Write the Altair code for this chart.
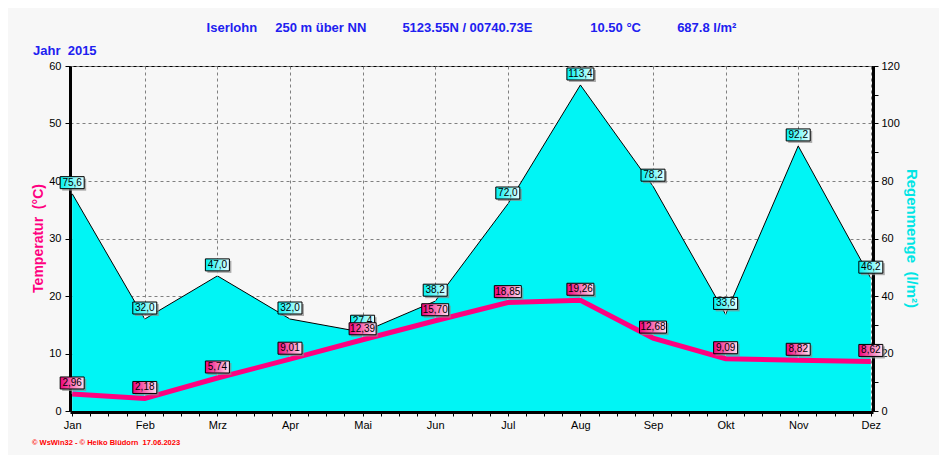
import altair as alt
import pandas as pd

# ---------------- data ----------------
months = ["Jan", "Feb", "Mrz", "Apr", "Mai", "Jun", "Jul", "Aug", "Sep", "Okt", "Nov", "Dez"]
temps = [2.96, 2.18, 5.74, 9.01, 12.39, 15.70, 18.85, 19.26, 12.68, 9.09, 8.82, 8.62]
rain = [75.6, 32.0, 47.0, 32.0, 27.4, 38.2, 72.0, 113.4, 78.2, 33.6, 92.2, 46.2]
temp_ticks = [0, 10, 20, 30, 40, 50, 60]
rain_ticks = [0, 10, 20, 30, 40, 50, 60, 70, 80, 90, 100, 110, 120]

NB = "\u00a0"
header = ("Iserlohn" + NB * 5 + "250 m über NN" + NB * 10 + "5123.55N / 00740.73E"
          + NB * 16 + "10.50 °C" + NB * 10 + "687.8 l/m²")
year_text = "Jahr" + NB * 2 + "2015"
footer_text = "© WsWin32 - © Heiko Blüdorn" + NB * 2 + "17.06.2023"

df = pd.DataFrame({"xi": list(range(12)), "month": months, "temp": temps, "rain": rain})
df["tlab"] = [f"{v:.2f}".replace(".", ",") for v in temps]
df["rlab"] = [f"{v:.1f}".replace(".", ",") for v in rain]

FONT = "Liberation Sans"
PINK = "#FF0080"
CYAN = "#00F5F5"
BLUE = "#2020F0"

month_arr = "[" + ",".join(f"'{m}'" for m in months) + "]"

x_enc = alt.X(
    "xi:Q",
    scale=alt.Scale(domain=[-0.03, 11.03], nice=False, zero=False),
    axis=alt.Axis(
        values=[i / 4 for i in range(45)],
        labelExpr=f"datum.value % 1 === 0 ? {month_arr}[datum.value] : ''",
        grid=True,
        gridOpacity={"condition": {"test": "datum.value % 1 === 0 && datum.value > 0", "value": 1}, "value": 0},
        gridDash=[3, 3], gridColor="#808080", gridWidth=1,
        domainColor="black", domainWidth=3,
        tickColor="black", tickSize=4, tickWidth=1,
        labelFont=FONT, labelFontSize=11, labelColor="black", labelPadding=3,
        labelFlush=False, labelOverlap=False, offset=1,
        title=None,
    ),
)

y_temp = alt.Y(
    "temp:Q",
    scale=alt.Scale(domain=[0, 60], nice=False),
    axis=alt.Axis(
        orient="left", values=temp_ticks,
        grid=True, gridDash=[3, 3], gridColor="#808080", gridWidth=1,
        domainColor="black", domainWidth=3,
        tickColor="black", tickSize=5, tickWidth=1,
        labelFont=FONT, labelFontSize=11, labelColor="black", labelPadding=4,
        labelFlush=False,
        title="Temperatur" + NB * 2 + "(°C)", titleColor=PINK, titleFont=FONT,
        titleFontSize=14, titleFontWeight="bold", titleX=-32, titleY=172,
        titleBaseline="middle", titleAlign="center",
    ),
)

y_rain = alt.Y(
    "rain:Q",
    scale=alt.Scale(domain=[0, 120], nice=False),
    axis=alt.Axis(
        orient="right", values=rain_ticks,
        labelExpr="datum.value % 20 === 0 ? datum.label : ''",
        grid=False,
        domainColor="black", domainWidth=3,
        tickColor="black", tickSize=5, tickWidth=1,
        labelFont=FONT, labelFontSize=11, labelColor="black", labelPadding=3,
        labelFlush=False,
        title="Regenmenge" + NB * 2 + "(l/m²)", titleColor="#00E5E5", titleFont=FONT,
        titleFontSize=15, titleFontWeight="bold", titleX=38, titleY=172,
        titleBaseline="middle", titleAlign="center",
    ),
)

base = alt.Chart(df)

rain_grad = alt.LinearGradient(
    gradient="linear", x1=0, x2=1, y1=0, y2=0,
    stops=[alt.GradientStop(color="#00F0F0", offset=0), alt.GradientStop(color="#E6FFFF", offset=1)],
)
temp_grad = alt.LinearGradient(
    gradient="linear", x1=0, x2=1, y1=0, y2=0,
    stops=[alt.GradientStop(color="#F0007A", offset=0), alt.GradientStop(color="#FFE0F0", offset=1)],
)


def boxes(field, y_enc, grad):
    layers = []
    for w, test in [(24, f"length(datum.{field}) <= 4"), (27, f"length(datum.{field}) > 4")]:
        sub = base.transform_filter(test)
        layers.append(sub.mark_rect(width=w, height=12, xOffset=2, yOffset=-9,
                                    color="#8a8a8a", opacity=0.7).encode(x=x_enc, y=y_enc))
        layers.append(sub.mark_rect(width=w, height=12, yOffset=-11, fill=grad,
                                    stroke="black", strokeWidth=1).encode(x=x_enc, y=y_enc))
    layers.append(base.mark_text(font=FONT, fontSize=10, color="black", dy=-11,
                                 baseline="middle", align="center")
                  .encode(x=x_enc, y=y_enc, text=f"{field}:N"))
    return layers


def notch(y_enc):
    return base.mark_tick(orient="vertical", size=6, thickness=1, color="white",
                          yOffset=-3).encode(x=x_enc, y=y_enc)


rain_area = base.mark_area(color=CYAN, opacity=1).encode(x=x_enc, y=y_rain)
rain_line = base.mark_line(color="black", strokeWidth=1).encode(x=x_enc, y=y_rain)
rain_group = alt.layer(rain_area, rain_line, notch(y_rain), *boxes("rlab", y_rain, rain_grad))

temp_line = base.mark_line(color=PINK, strokeWidth=5).encode(x=x_enc, y=y_temp)
temp_group = alt.layer(notch(y_temp), temp_line, *boxes("tlab", y_temp, temp_grad))

year_layer = alt.Chart(pd.DataFrame({"t": [year_text]})).mark_text(
    align="left", baseline="middle", font=FONT, fontSize=13, fontWeight="bold", color=BLUE
).encode(x=alt.value(-37), y=alt.value(-15), text="t:N")

footer_layer = alt.Chart(pd.DataFrame({"t": [footer_text]})).mark_text(
    align="left", baseline="middle", font=FONT, fontSize=7.5, fontWeight="bold", color="#FF0000"
).encode(x=alt.value(-38), y=alt.value(377), text="t:N")

chart = (
    alt.layer(rain_group, temp_group, year_layer, footer_layer)
    .resolve_scale(y="independent")
    .properties(
        width=803, height=345,
        padding={"left": 62, "top": 58, "right": 66, "bottom": 44},
        autosize=alt.AutoSizeParams(type="none"),
        background="#F7F7F7",
        title=alt.TitleParams(text=header, font=FONT, fontSize=13, fontWeight="bold",
                              color=BLUE, anchor="middle", offset=10),
    )
    .configure_view(stroke="black", strokeWidth=1)
)

chart.save("out.html", embed_options={"renderer": "svg", "actions": False})
